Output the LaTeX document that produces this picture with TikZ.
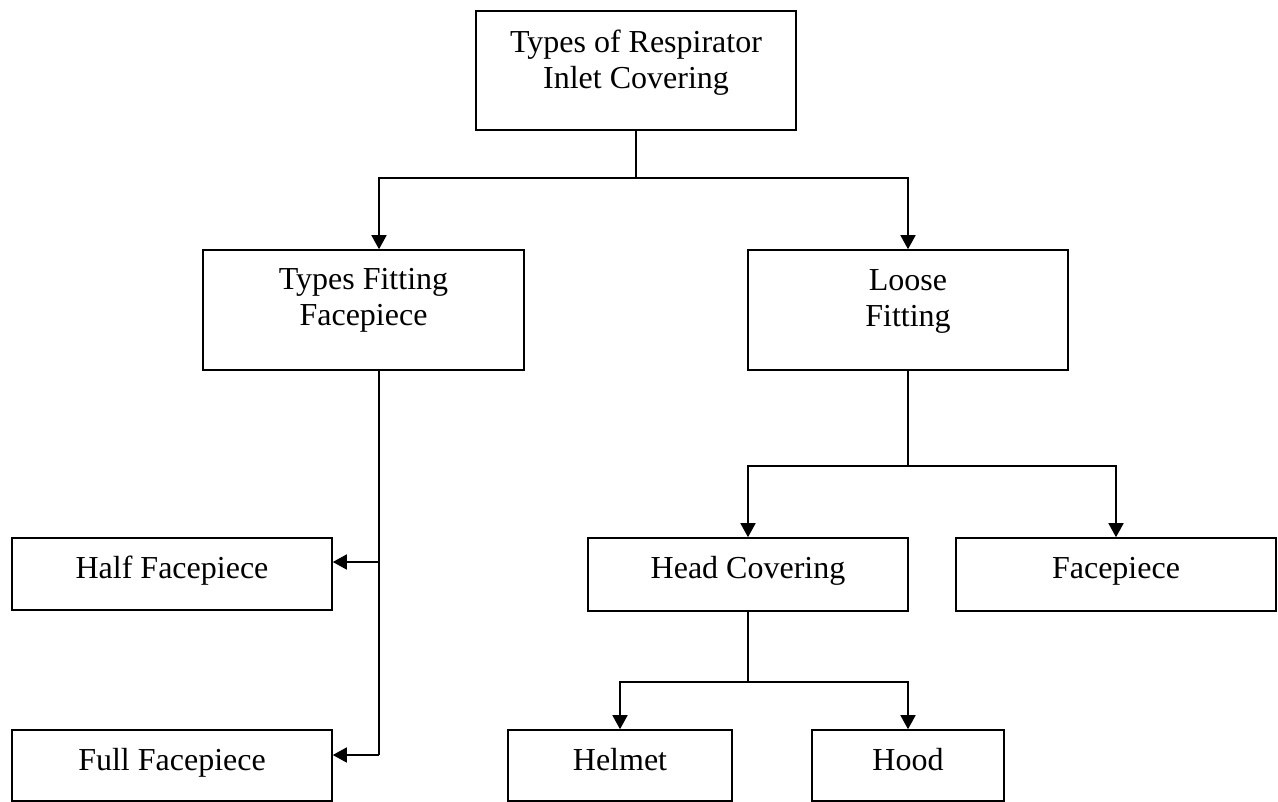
\documentclass[tikz,border=0pt]{standalone}
\usepackage{fontspec}
\setmainfont{Liberation Serif}
\usetikzlibrary{arrows.meta}

\tikzset{
    box/.style={draw, thick, rectangle, inner sep=0pt},
    lbl/.style={anchor=north, align=center, inner sep=0pt, font=\fontsize{16pt}{18pt}\selectfont},
    lblone/.style={lbl, anchor=base},
    arr/.style={thick, -{Triangle[length=7pt, width=7.5pt]}},
}

\begin{document}
\begin{tikzpicture}[x=0.5pt, y=-0.5pt]
    \useasboundingbox (0, 0) rectangle (1278, 802);
    % boxes
    \node[box, minimum width=160pt, minimum height=59.5pt] (top) at (636, 70.5) {};
    \node[box, minimum width=160.5pt, minimum height=60pt] (tight) at (363.5, 310) {};
    \node[box, minimum width=160pt, minimum height=60pt] (loose) at (908, 310) {};
    \node[box, minimum width=160pt, minimum height=36pt] (half) at (172, 574) {};
    \node[box, minimum width=160pt, minimum height=35.5pt] (full) at (172, 765.5) {};
    \node[box, minimum width=160pt, minimum height=36.5pt] (head) at (748, 574.5) {};
    \node[box, minimum width=160pt, minimum height=36.5pt] (face) at (1116, 574.5) {};
    \node[box, minimum width=112pt, minimum height=35.5pt] (helmet) at (620, 765.5) {};
    \node[box, minimum width=96pt, minimum height=35.5pt] (hood) at (908, 765.5) {};
    % texts
    \node[lbl] (top-t) at ([yshift=-9.5pt]top.north) {Types of Respirator\\Inlet Covering};
    \node[lbl] (tight-t) at ([yshift=-9.5pt]tight.north) {Types Fitting\\Facepiece};
    \node[lbl] (loose-t) at ([yshift=-10pt]loose.north) {Loose\\Fitting};
    \node[lblone] (half-t) at ([yshift=-20.5pt]half.north) {Half Facepiece};
    \node[lblone] (full-t) at ([yshift=-20.5pt]full.north) {Full Facepiece};
    \node[lblone] (head-t) at ([yshift=-20.5pt]head.north) {Head Covering};
    \node[lblone] (face-t) at ([yshift=-20.5pt]face.north) {Facepiece};
    \node[lblone] (helmet-t) at ([yshift=-20.5pt]helmet.north) {Helmet};
    \node[lblone] (hood-t) at ([yshift=-20.5pt]hood.north) {Hood};
    % junctions
    \coordinate (j1) at (636, 178);
    \coordinate (j2) at (379, 755);
    \coordinate (j3) at (908, 466);
    \coordinate (j4) at (748, 682);
    % connectors
    \draw[thick] (top.south) -- (j1);
    \draw[arr] (j1) -| ([xshift=7.75pt]tight.north);
    \draw[arr] (j1) -| (loose.north);
    \draw[thick] ([xshift=7.75pt]tight.south) -- (j2);
    \draw[arr] ([yshift=6pt]half.east -| j2) -- ([yshift=6pt]half.east);
    \draw[arr] (j2) -- (full.east |- j2);
    \draw[thick] (loose.south) -- (j3);
    \draw[arr] (j3) -| (head.north);
    \draw[arr] (j3) -| (face.north);
    \draw[thick] (head.south) -- (j4);
    \draw[arr] (j4) -| (helmet.north);
    \draw[arr] (j4) -| (hood.north);
\end{tikzpicture}
\end{document}
